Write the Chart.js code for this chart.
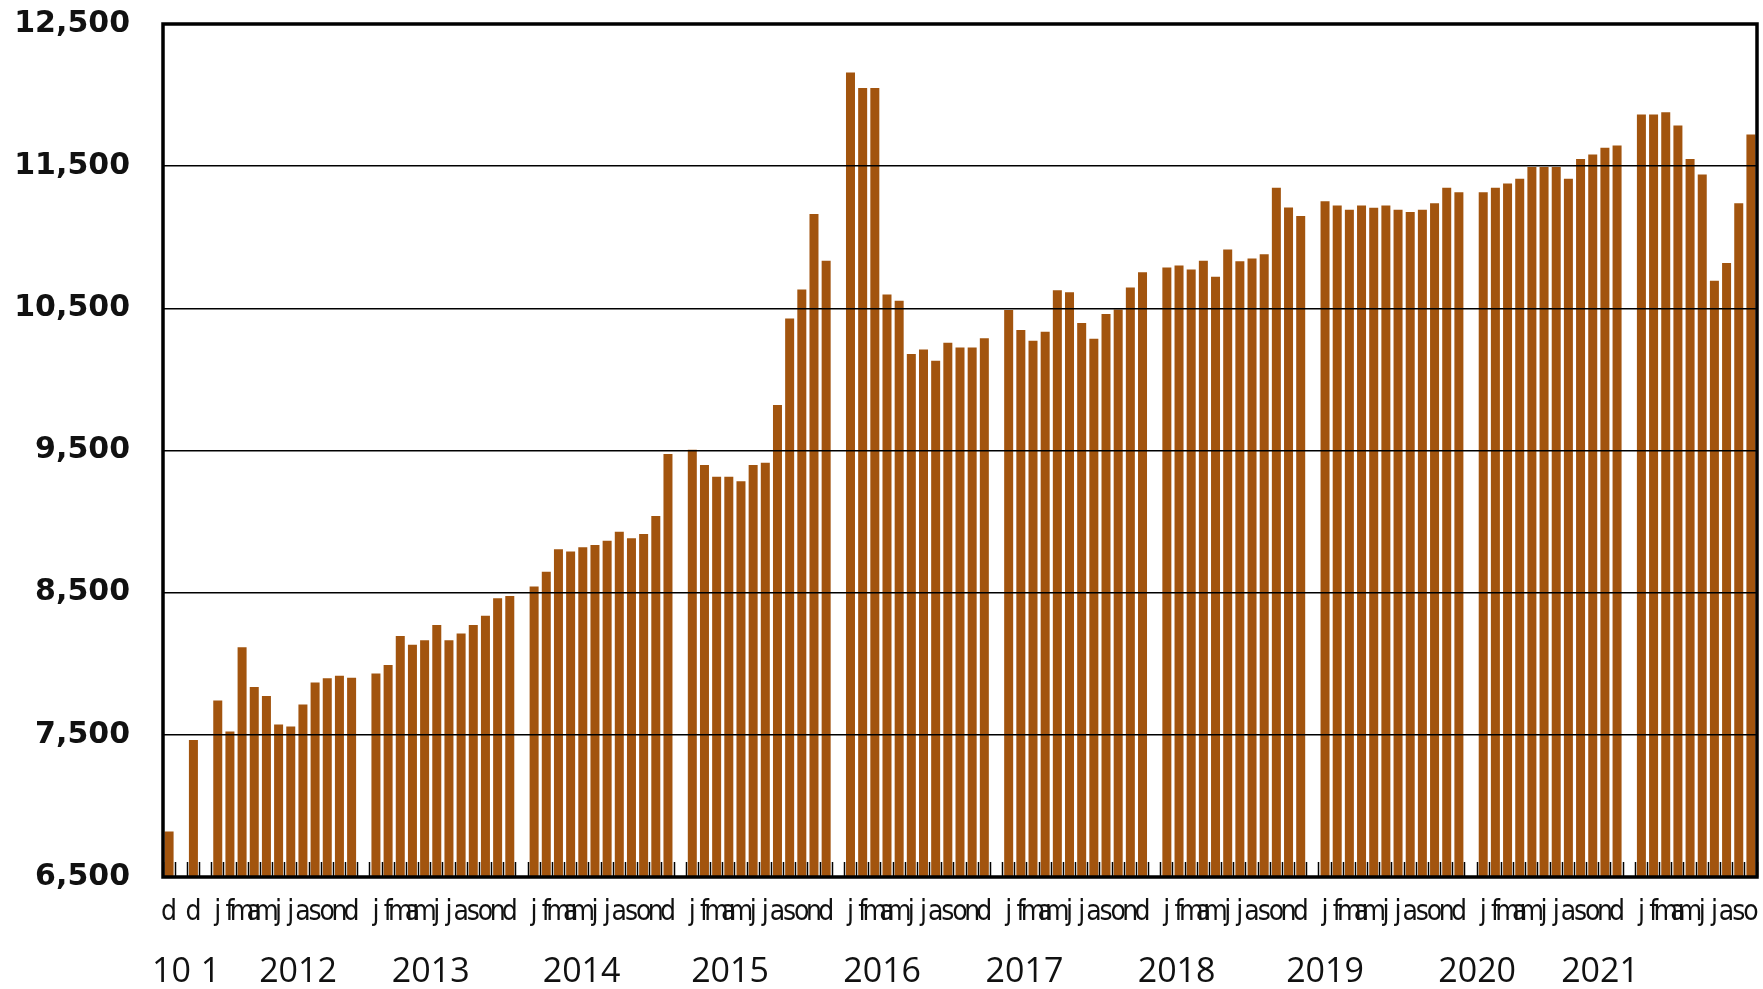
<!DOCTYPE html>
<html>
<head>
<meta charset="utf-8">
<script src="https://cdn.jsdelivr.net/npm/chart.js@4.4.1/dist/chart.umd.min.js"></script>
<style>
  html, body { margin: 0; padding: 0; background: #fff; }
  #wrap { width: 1763px; height: 989px; }
</style>
</head>
<body>
<div id="wrap"><canvas id="chart"></canvas></div>
<script>
/* ---------- monthly values, one array per year (2010 / 2011: december only) */
const v2010 = [6820];
const v2011 = [7463];
const v2012 = [7741, 7523, 8116, 7837, 7774, 7573, 7559, 7713, 7868, 7898, 7915, 7901];
const v2013 = [7931, 7992, 8196, 8133, 8166, 8273, 8166, 8212, 8273, 8337, 8461, 8477];
const v2014 = [8543, 8648, 8805, 8789, 8819, 8836, 8866, 8929, 8883, 8913, 9040, 9475];
const v2015 = [9505, 9398, 9316, 9316, 9284, 9398, 9414, 9820, 10429, 10633, 11163, 10834];
const v2016 = [12159, 12050, 12050, 10598, 10553, 10178, 10211, 10131, 10258, 10225, 10225, 10289];
const v2017 = [10488, 10347, 10272, 10335, 10628, 10614, 10396, 10286, 10460, 10492, 10647, 10753];
const v2018 = [10788, 10802, 10774, 10834, 10722, 10914, 10832, 10851, 10881, 11348, 11210, 11149];
const v2019 = [11254, 11224, 11193, 11224, 11207, 11224, 11193, 11177, 11193, 11240, 11348, 11317];
const v2020 = [11317, 11348, 11378, 11411, 11495, 11495, 11495, 11411, 11551, 11582, 11629, 11645];
const v2021 = [11863, 11863, 11880, 11786, 11551, 11441, 10694, 10818, 11240, 11723];

const monthLetters = ['j', 'f', 'm', 'a', 'm', 'j', 'j', 'a', 's', 'o', 'n', 'd'];

/* second label row: text and the slot it sits under */
const yearLabels     = ['10', '1', '2012', '2013', '2014', '2015', '2016', '2017', '2018', '2019', '2020', '2021'];
const yearLabelSlots = [0.2, 3.4, 10.6, 21.5, 33.9, 46.1, 58.6, 70.3, 82.8, 95.0, 107.5, 117.6];

const yTicks = [6500, 7500, 8500, 9500, 10500, 11500, 12500];

/* ---------- build category list, one empty slot between years */
const groups = [v2010, v2011, v2012, v2013, v2014, v2015, v2016, v2017, v2018, v2019, v2020, v2021];
const labels = [];
const values = [];
groups.forEach((g, gi) => {
  if (gi > 0) { labels.push(''); values.push(null); }
  const letters = g.length === 1 ? ['d'] : monthLetters.slice(0, g.length);
  g.forEach((v, i) => { labels.push(letters[i]); values.push(v); });
});

/* ---------- black frame round the plot area */
const frame = {
  id: 'frame',
  afterDraw(chart) {
    const { ctx, chartArea: a } = chart;
    ctx.save();
    ctx.strokeStyle = '#000';
    ctx.lineWidth = 3.5;
    ctx.strokeRect(a.left, a.top, a.right - a.left, a.bottom - a.top);
    ctx.restore();
  }
};

// scales add tick padding to the chart edges; the layout padding handles that here
const noEdgePad = s => { s.paddingLeft = s.paddingRight = s.paddingTop = s.paddingBottom = 0; };

new Chart(document.getElementById('chart'), {
  type: 'bar',
  data: {
    labels,
    datasets: [{
      data: values,
      backgroundColor: '#A2540E',
      borderWidth: 0,
      categoryPercentage: 1,
      barPercentage: 0.74,
      xAxisID: 'x',
      yAxisID: 'y'
    }]
  },
  options: {
    responsive: true,
    maintainAspectRatio: false,
    animation: false,
    layout: { padding: { left: 14, right: 6, top: 24, bottom: 0 } },
    plugins: { legend: { display: false }, tooltip: { enabled: false } },
    scales: {
      y: {
        min: 6500, max: 12500,
        afterBuildTicks: s => { s.ticks = yTicks.map(v => ({ value: v })); },
        afterFit: s => { s.width = 149; noEdgePad(s); },
        ticks: {
          color: '#111',
          padding: 33,
          font: { family: 'DejaVu Sans', size: 30, weight: 'bold' },
          callback: v => v.toLocaleString('en-US')
        },
        grid: { color: '#000', lineWidth: 1.6, drawTicks: false, z: 1 },
        border: { display: false }
      },
      x: {
        weight: 0,
        afterFit: s => { s.height = 60; noEdgePad(s); },
        ticks: {
          autoSkip: false, maxRotation: 0, minRotation: 0,
          color: '#111',
          padding: 34,
          font: { family: "'Liberation Sans Narrow', 'DejaVu Sans Condensed', sans-serif", size: 28 }
        },
        grid: {
          offset: true,
          drawOnChartArea: false,
          drawTicks: true,
          tickLength: -15,
          tickColor: '#000',
          tickWidth: 1.5,
          z: 1
        },
        border: { display: false }
      },
      x2: {
        type: 'linear',
        position: 'bottom',
        weight: 1,
        offset: false,
        min: -0.5, max: values.length - 0.5,
        afterBuildTicks: s => { s.ticks = yearLabelSlots.map(v => ({ value: v })); },
        afterFit: s => { s.height = 52; noEdgePad(s); },
        ticks: {
          autoSkip: false, maxRotation: 0, minRotation: 0,
          color: '#111',
          padding: 7,
          font: { family: "'Open Sans', sans-serif", size: 34 },
          callback: (v, i) => yearLabels[i]
        },
        grid: { display: false, offset: false },
        border: { display: false }
      }
    }
  },
  plugins: [frame]
});
</script>
</body>
</html>
